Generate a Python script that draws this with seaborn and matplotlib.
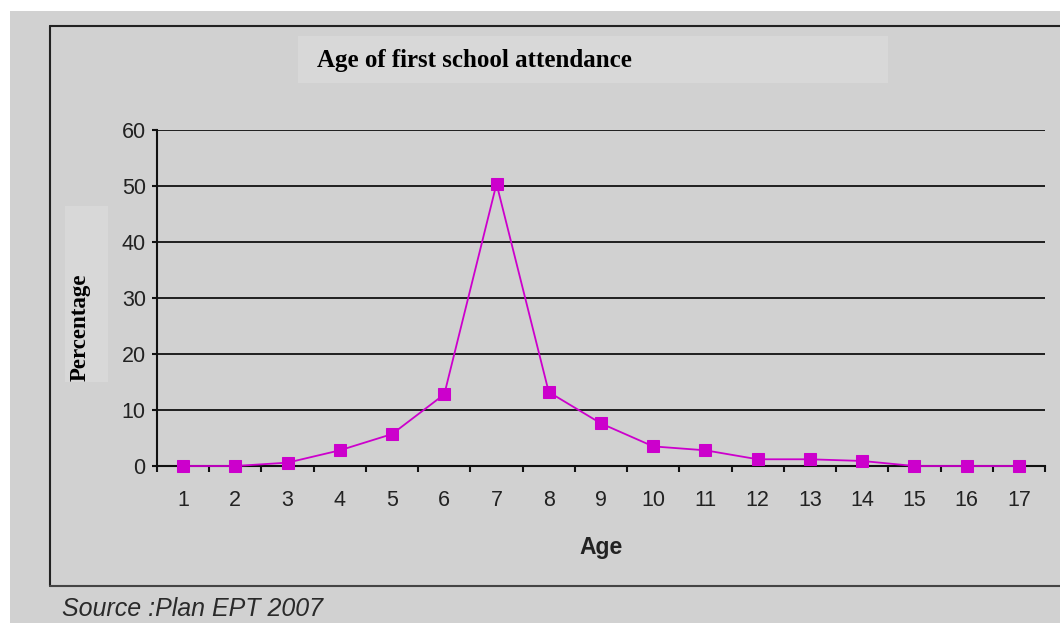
import matplotlib
matplotlib.use("Agg")
import matplotlib.pyplot as plt
import seaborn as sns
import pandas as pd
from matplotlib.patches import Rectangle
from matplotlib.lines import Line2D

# data
ages = list(range(1, 18))
percentage = [0, 0, 0.6, 2.8, 5.7, 12.8, 50.4, 13.2, 7.6, 3.5, 2.8, 1.2, 1.2, 0.9, 0, 0, 0]
y_ticks = [0, 10, 20, 30, 40, 50, 60]

title = "Age of first school attendance"
x_label = "Age"
y_label = "Percentage"
source = "Source :Plan EPT 2007"

W, H = 1060, 623
bg = "#d1d1d1"
box_bg = "#d8d8d8"
line_col = "#cc00cc"

sns.set_theme(style="white")
plt.rcParams["font.family"] = ["Liberation Sans", "DejaVu Sans"]

df = pd.DataFrame({"Age": ages, "Percentage": percentage})

fig = plt.figure(figsize=(W / 100, H / 100), dpi=100)
fig.patch.set_facecolor("white")


def px(x0, y0, x1, y1):
    # pixel box (top-left origin) -> figure fraction rect
    return (x0 / W, 1 - y1 / H, (x1 - x0) / W, (y1 - y0) / H)


# gray canvas and the chart frame
r = px(10, 11, W, H)
fig.patches.append(Rectangle(r[:2], r[2], r[3], transform=fig.transFigure,
                             facecolor=bg, edgecolor="none", zorder=-2))
fig.lines.append(Line2D([50 / W, 50 / W], [1 - 26 / H, 1 - 586 / H], transform=fig.transFigure,
                        color="#222222", lw=1.5, zorder=-1))
fig.lines.append(Line2D([50 / W, 1], [1 - 26 / H, 1 - 26 / H], transform=fig.transFigure,
                        color="#222222", lw=1.5, zorder=-1))
fig.lines.append(Line2D([50 / W, 1], [1 - 586 / H, 1 - 586 / H], transform=fig.transFigure,
                        color="#444444", lw=1.5, zorder=-1))

# title box
r = px(298, 36, 888, 83)
fig.patches.append(Rectangle(r[:2], r[2], r[3], transform=fig.transFigure,
                             facecolor=box_bg, edgecolor="none", zorder=-1))
fig.text(317 / W, 1 - 60 / H, title, family=["Liberation Serif"], fontweight="bold",
         fontsize=18, color="black", ha="left", va="center")

# y label box
r = px(65, 206, 108, 382)
fig.patches.append(Rectangle(r[:2], r[2], r[3], transform=fig.transFigure,
                             facecolor=box_bg, edgecolor="none", zorder=-1))
fig.text(80 / W, 1 - 381 / H, y_label, family=["Liberation Serif"], fontweight="bold",
         fontsize=16.5, color="black", rotation=90, ha="center", va="bottom")

# source note
fig.text(62 / W, 1 - 609 / H, source, style="italic", fontsize=18, color="#2a2a2a",
         ha="left", va="center")

ax = fig.add_axes(px(157, 130, 1045, 466))
ax.set_facecolor("none")
ax.set_zorder(2)

sns.lineplot(data=df, x="Age", y="Percentage", ax=ax, color=line_col, lw=1.3,
             marker="s", markersize=8.5, markeredgecolor=line_col, markerfacecolor=line_col,
             clip_on=False, zorder=5)

ax.set_xlim(0.5, 17.5)
ax.set_ylim(0, 60)
ax.set_yticks(y_ticks)
ax.set_xticks(ages)
ax.set_xticks([a - 0.5 for a in ages] + [17.5], minor=True)
ax.yaxis.grid(True, color="#111111", lw=1.3)
ax.xaxis.grid(False)

for side in ["top", "right"]:
    ax.spines[side].set_visible(False)
for side in ["left", "bottom"]:
    ax.spines[side].set_color("#111111")
    ax.spines[side].set_linewidth(1.5)

ax.tick_params(axis="x", which="major", length=0, pad=17.5, labelsize=15.5, labelcolor="#222222")
ax.tick_params(axis="x", which="minor", length=4.3, width=1.5, color="#111111", direction="out", bottom=True)
ax.tick_params(axis="y", length=3.8, width=1.5, color="#111111", direction="out", left=True,
               pad=4.3, labelsize=15.5, labelcolor="#222222")

ax.set_xlabel(x_label, fontsize=16.5, fontweight="bold", color="#222222", labelpad=18)
ax.set_ylabel("")

fig.savefig("out.png", dpi=100, facecolor=fig.get_facecolor())
